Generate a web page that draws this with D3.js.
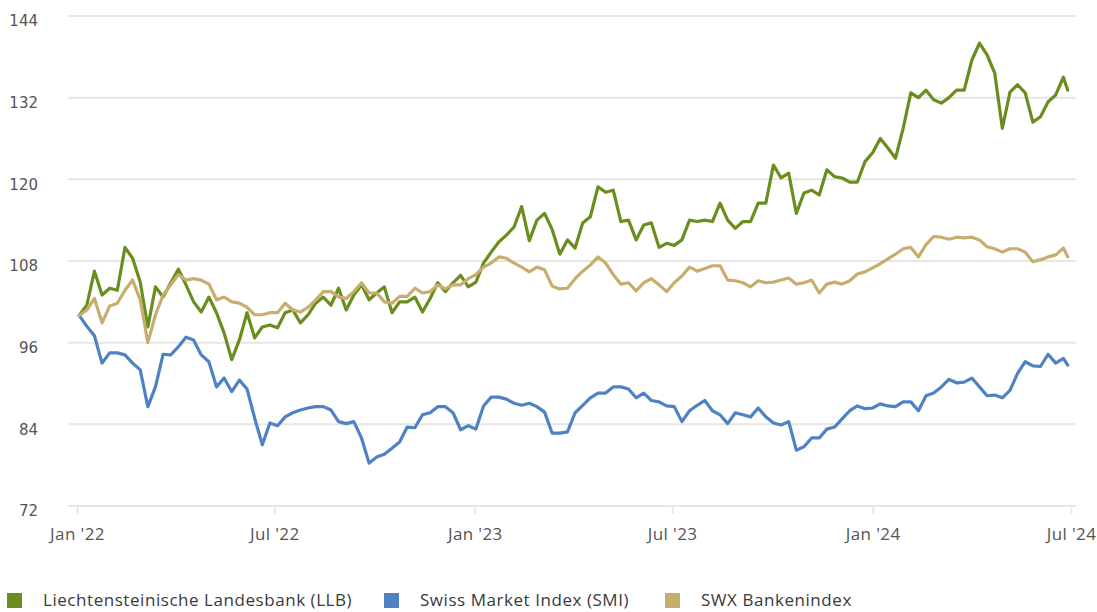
<!DOCTYPE html>
<html>
<head>
<meta charset="utf-8">
<script src="https://cdn.jsdelivr.net/npm/d3@7"></script>
<style>
  html, body { margin: 0; padding: 0; background: #fff; }
  svg { display: block; font-family: "Open Sans", Lato, sans-serif; }
</style>
</head>
<body>
<svg id="chart" width="1097" height="612"></svg>
<script>
// ---------- DATA ----------
const seriesNames = ["Liechtensteinische Landesbank (LLB)", "Swiss Market Index (SMI)", "SWX Bankenindex"];
const seriesColors = ["#6a8e1e", "#4f82c3", "#c8ae6e"];
const yTicks = [72, 84, 96, 108, 120, 132, 144];
const xTickDates = ["2022-01-01", "2022-07-01", "2023-01-01", "2023-07-01", "2024-01-01", "2024-07-01"];
const xTickLabels = ["Jan '22", "Jul '22", "Jan '23", "Jul '23", "Jan '24", "Jul '24"];

// weekly observations starting 2022-01-03, last one 2024-06-28
const firstDate = "2022-01-03";
const lastDate = "2024-06-28";

const llb = [100,101.5,106.5,103,104,103.7,110,108.4,104.9,98.3,
  104.2,102.7,104.8,106.8,104.5,102,100.5,102.7,100.4,97.4,
  93.5,96.4,100.4,96.7,98.3,98.6,98.2,100.4,100.8,98.9,
  100.1,101.8,102.7,101.5,104,100.8,103,104.5,102.3,103.3,
  104.2,100.4,102,102,102.7,100.5,102.5,104.8,103.5,104.8,
  105.9,104.2,104.9,107.7,109.3,110.8,111.8,113,116,111,
  114,115,112.6,109,111.1,109.9,113.6,114.5,118.9,118.1,
  118.4,113.8,114,111.1,113.3,113.6,110,110.6,110.3,111.1,
  114,113.8,114,113.8,116.5,114,112.8,113.8,113.8,116.5,
  116.5,122.1,120.2,120.9,115,118,118.4,117.7,121.4,120.4,
  120.2,119.6,119.6,122.6,123.9,126,124.6,123.1,127.5,132.7,
  132,133.1,131.7,131.2,132,133.1,133.1,137.5,140,138.3,
  135.6,127.5,132.8,133.9,132.7,128.4,129.2,131.4,132.4,135,
  133.1];

const smi = [100,98.4,97,93,94.5,94.5,94.2,93,92,86.6,
  89.5,94.3,94.2,95.4,96.8,96.4,94.2,93.2,89.5,90.8,
  88.8,90.5,89.2,84.9,81,84.2,83.8,85.1,85.7,86.1,
  86.4,86.6,86.6,86.1,84.4,84.1,84.4,82,78.3,79.2,
  79.6,80.5,81.4,83.6,83.5,85.4,85.7,86.6,86.6,85.7,
  83.2,83.8,83.3,86.7,88,88,87.7,87.1,86.8,87.1,
  86.6,85.8,82.7,82.7,82.9,85.7,86.8,87.9,88.6,88.6,
  89.5,89.5,89.2,87.9,88.6,87.5,87.3,86.7,86.6,84.4,
  86,86.8,87.5,86,85.4,84.1,85.7,85.4,85.1,86.4,
  85.1,84.2,83.9,84.4,80.2,80.7,82,82,83.3,83.6,
  84.8,86,86.7,86.3,86.4,87,86.7,86.6,87.3,87.3,
  86,88.2,88.6,89.5,90.6,90.1,90.2,90.8,89.5,88.2,
  88.3,87.9,89,91.5,93.2,92.6,92.5,94.3,93,93.7,
  92.7];

const swx = [100,100.8,102.5,98.9,101.4,101.8,103.7,105.2,102.3,96,
  100.1,103,104.5,106,105.2,105.4,105.2,104.6,102.3,102.7,
  102,101.8,101.2,100.1,100.1,100.4,100.4,101.8,100.8,100.5,
  101.2,102.3,103.5,103.5,102.7,102.5,103.5,104.8,103.3,103.3,
  102,101.8,102.8,102.8,104,103.3,103.5,104.5,103.9,104.5,
  104.5,105.4,106,107.1,107.7,108.6,108.4,107.7,107.1,106.4,
  107.1,106.7,104.3,103.9,104,105.4,106.5,107.4,108.6,107.7,
  106,104.6,104.8,103.6,104.8,105.4,104.5,103.5,104.8,105.8,
  107.1,106.5,106.9,107.3,107.3,105.2,105.1,104.8,104.2,105.1,
  104.8,104.9,105.2,105.5,104.6,104.8,105.2,103.3,104.6,104.9,
  104.6,105.1,106.1,106.4,107,107.6,108.3,109,109.8,110,
  108.6,110.4,111.6,111.5,111.2,111.5,111.4,111.5,111.1,110.1,
  109.8,109.3,109.8,109.8,109.3,107.9,108.2,108.6,108.9,109.9,
  108.6];

// ---------- BUILD ----------
const parse = d3.timeParse("%Y-%m-%d");
const start = parse(firstDate);
const dates = llb.map((_, i) => i === llb.length - 1 ? parse(lastDate) : d3.timeDay.offset(start, 7 * i));
const allSeries = [llb, smi, swx];

const svg = d3.select("#chart");
const W = 1097, H = 612;
svg.append("rect").attr("width", W).attr("height", H).attr("fill", "#fff");

const x = d3.scaleTime()
  .domain([parse(xTickDates[0]), parse(xTickDates[xTickDates.length - 1])])
  .range([77, 1071]);
const y = d3.scaleLinear().domain([72, 144]).range([506, 16]);

// grid lines
const gridLeft = 68, gridRight = 1076;
svg.append("g").selectAll("line").data(yTicks).join("line")
  .attr("x1", gridLeft).attr("x2", gridRight)
  .attr("y1", d => y(d)).attr("y2", d => y(d))
  .attr("stroke", "#e6e6e6").attr("stroke-width", 2);

// y labels
const yAxis = d3.axisLeft(y).tickValues(yTicks).tickSize(0).tickPadding(0);
const gy = svg.append("g").attr("transform", "translate(38,0)").call(yAxis);
gy.select(".domain").remove();
gy.selectAll("text")
  .attr("font-family", "'DejaVu Sans', Verdana, sans-serif")
  .attr("font-size", 15).attr("fill", "#555").attr("dy", "0.66em")
  .attr("text-anchor", "end");

// x axis
const xAxis = d3.axisBottom(x)
  .tickValues(xTickDates.map(parse))
  .tickFormat((d, i) => xTickLabels[i])
  .tickSize(7).tickPadding(14);
const gx = svg.append("g").attr("transform", "translate(0,507)").call(xAxis);
gx.select(".domain").remove();
gx.selectAll(".tick line").attr("stroke", "#dde5f0").attr("stroke-width", 1.5);
gx.selectAll("text")
  .attr("font-family", "'Open Sans', Lato, sans-serif")
  .attr("font-size", 17).attr("letter-spacing", "0.4px").attr("fill", "#555");

// lines
const line = d3.line()
  .x((d, i) => x(dates[i]))
  .y(d => y(d))
  .curve(d3.curveLinear);

svg.append("g").selectAll("path").data(allSeries).join("path")
  .attr("d", d => line(d))
  .attr("fill", "none")
  .attr("stroke", (d, i) => seriesColors[i])
  .attr("stroke-width", 3.2)
  .attr("stroke-linejoin", "round")
  .attr("stroke-linecap", "round");

// legend
const legendX = [7, 384, 665];
const lg = svg.append("g").selectAll("g").data(seriesNames).join("g")
  .attr("transform", (d, i) => `translate(${legendX[i]},593)`);
lg.append("rect").attr("width", 15).attr("height", 15)
  .attr("fill", (d, i) => seriesColors[i]);
lg.append("text").attr("x", 36).attr("y", 13)
  .attr("font-family", "'Open Sans', Lato, sans-serif")
  .attr("font-size", 17).attr("letter-spacing", "0.55px").attr("fill", "#3a3a3a")
  .text(d => d);
</script>
</body>
</html>
